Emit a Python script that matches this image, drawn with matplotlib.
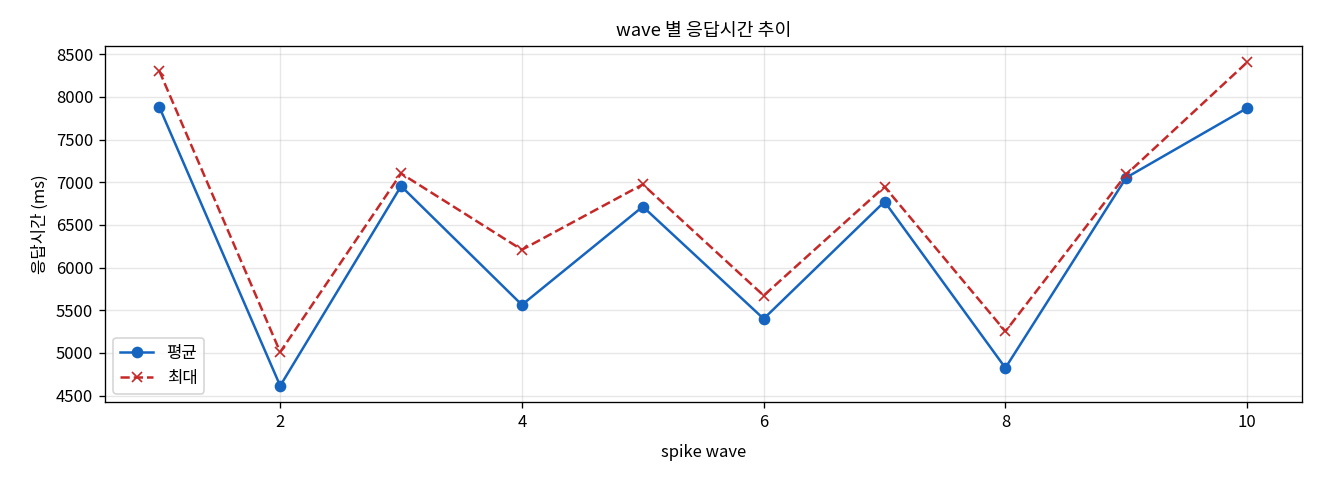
import matplotlib
matplotlib.use("Agg")
import matplotlib.pyplot as plt

plt.rcParams['font.family'] = ['Noto Sans CJK KR', 'DejaVu Sans']
plt.rcParams['axes.unicode_minus'] = False

waves = [1, 2, 3, 4, 5, 6, 7, 8, 9, 10]
avg_ms = [7882, 4614, 6955, 5563, 6715, 5400, 6773, 4824, 7055, 7870]
max_ms = [8305, 5010, 7103, 6209, 6975, 5672, 6948, 5252, 7092, 8407]

fig, ax = plt.subplots(figsize=(11, 4), dpi=120)
fig.subplots_adjust(left=0.0795, right=0.986, top=0.904, bottom=0.1625)

ax.plot(waves, avg_ms, marker='o', linestyle='-', color='#1565C0', label='평균', linewidth=1.5, markersize=6)
ax.plot(waves, max_ms, marker='x', linestyle='--', color='#C62828', label='최대', linewidth=1.5, markersize=6)

ax.set_title('wave 별 응답시간 추이', fontsize=11)
ax.set_xlabel('spike wave', fontsize=10, labelpad=8)
ax.set_ylabel('응답시간 (ms)', fontsize=10)
ax.grid(True, alpha=0.3)
ax.legend(loc='lower left', fontsize=10)

fig.savefig('out.png', dpi=120)
